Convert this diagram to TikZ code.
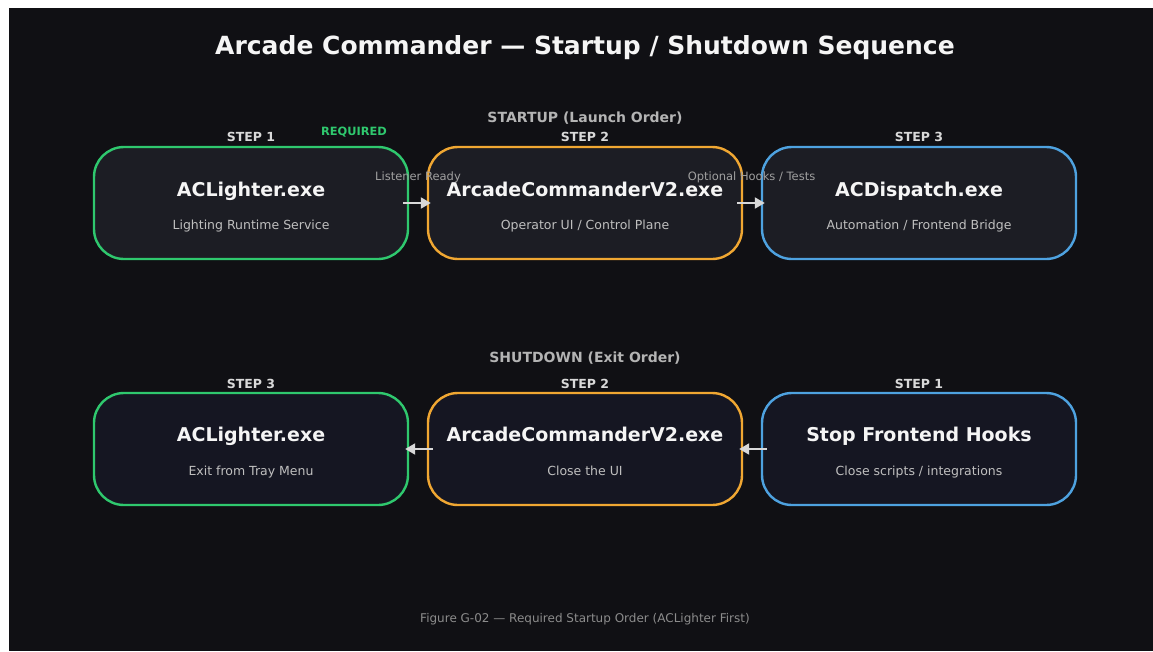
\documentclass[tikz,border=0pt]{standalone}
\usepackage{fontspec}
\setmainfont{DejaVu Sans}
\usetikzlibrary{arrows.meta}

\definecolor{pagebg}{HTML}{101014}
\definecolor{titlefg}{HTML}{F5F5F5}
\definecolor{headfg}{HTML}{B4B4B4}
\definecolor{stepfg}{HTML}{D9D9D9}
\definecolor{subfg}{HTML}{BFBFBF}
\definecolor{edgefg}{HTML}{A0A0A0}
\definecolor{capfg}{HTML}{8C8C8C}
\definecolor{arrowfg}{HTML}{D8D8D8}
\definecolor{accgreen}{HTML}{2FC86E}
\definecolor{accorange}{HTML}{F0A732}
\definecolor{accblue}{HTML}{4EA2E0}
\definecolor{fillup}{HTML}{1C1D24}
\definecolor{filldown}{HTML}{151622}

\tikzset{
  procbox/.style={draw, line width=2.4pt, rounded corners=30pt,
    minimum width=314pt, minimum height=112pt, inner sep=0pt},
  upbox/.style={procbox, fill=fillup},
  downbox/.style={procbox, fill=filldown},
  boxtitle/.style={anchor=base, inner sep=0pt, text=titlefg,
    font=\bfseries\fontsize{19}{22}\selectfont},
  boxsub/.style={anchor=base, inner sep=0pt, text=subfg,
    font=\fontsize{12.5}{15}\selectfont},
  steplabel/.style={anchor=base, inner sep=0pt, text=stepfg,
    font=\bfseries\fontsize{12.5}{15}\selectfont},
  sectionlabel/.style={anchor=base, inner sep=0pt, text=headfg,
    font=\bfseries\fontsize{14}{17}\selectfont},
  edgelabel/.style={anchor=base, inner sep=0pt, text=edgefg,
    font=\fontsize{11.5}{14}\selectfont},
  flow/.style={draw=arrowfg, line width=2pt,
    -{Triangle[length=10pt,width=11pt]}, shorten <=-6pt, shorten >=-4pt},
}

\begin{document}
\begin{tikzpicture}[x=1pt, y=-1pt]
  % canvas
  \fill[white] (0,0) rectangle (1153,651);
  \fill[pagebg] (9,8) rectangle (1153,651);
  \useasboundingbox (0,0) rectangle (1153,651);

  % heading
  \node[anchor=base, inner sep=0pt, text=titlefg,
        font=\bfseries\fontsize{25}{30}\selectfont] (title) at (585,54)
        {Arcade Commander — Startup / Shutdown Sequence};

  % ---------- startup row ----------
  \node[sectionlabel] (suphead) at (585,122.7) {STARTUP (Launch Order)};

  \node[upbox, draw=accgreen]  (s1) at (251,203) {};
  \node[upbox, draw=accorange] (s2) at (585,203) {};
  \node[upbox, draw=accblue]   (s3) at (919,203) {};

  \node[steplabel] (s1step) at (251,141.7) {STEP 1};
  \node[steplabel] (s2step) at (585,141.7) {STEP 2};
  \node[steplabel] (s3step) at (919,141.7) {STEP 3};
  \node[anchor=base, inner sep=0pt, text=accgreen,
        font=\bfseries\fontsize{11.4}{14}\selectfont] (req) at (354,135.5) {REQUIRED};

  \node[boxtitle] (s1t) at (251,196) {ACLighter.exe};
  \node[boxsub]   (s1s) at (251,229) {Lighting Runtime Service};
  \node[boxtitle] (s2t) at (585,196) {ArcadeCommanderV2.exe};
  \node[boxsub]   (s2s) at (585,229) {Operator UI / Control Plane};
  \node[boxtitle] (s3t) at (919,196) {ACDispatch.exe};
  \node[boxsub]   (s3s) at (919,229) {Automation / Frontend Bridge};

  \draw[flow] (s1.east) -- (s2.west);
  \draw[flow] (s2.east) -- (s3.west);
  \node[edgelabel] (e12) at (418,180) {Listener Ready};
  \node[edgelabel] (e23) at (751.5,180) {Optional Hooks / Tests};

  % ---------- shutdown row ----------
  \node[sectionlabel] (sdhead) at (585,362.7) {SHUTDOWN (Exit Order)};

  \node[downbox, draw=accgreen]  (d3) at (251,449) {};
  \node[downbox, draw=accorange] (d2) at (585,449) {};
  \node[downbox, draw=accblue]   (d1) at (919,449) {};

  \node[steplabel] (d3step) at (251,388) {STEP 3};
  \node[steplabel] (d2step) at (585,388) {STEP 2};
  \node[steplabel] (d1step) at (919,388) {STEP 1};

  \node[boxtitle] (d3t) at (251,441.7) {ACLighter.exe};
  \node[boxsub]   (d3s) at (251,475.5) {Exit from Tray Menu};
  \node[boxtitle] (d2t) at (585,441.7) {ArcadeCommanderV2.exe};
  \node[boxsub]   (d2s) at (585,475.5) {Close the UI};
  \node[boxtitle] (d1t) at (919,441.7) {Stop Frontend Hooks};
  \node[boxsub]   (d1s) at (919,475.5) {Close scripts / integrations};

  \draw[flow] (d1.west) -- (d2.east);
  \draw[flow] (d2.west) -- (d3.east);

  % caption
  \node[anchor=base, inner sep=0pt, text=capfg,
        font=\fontsize{12}{14}\selectfont] (cap) at (585,622.3)
        {Figure G-02 — Required Startup Order (ACLighter First)};
\end{tikzpicture}
\end{document}
